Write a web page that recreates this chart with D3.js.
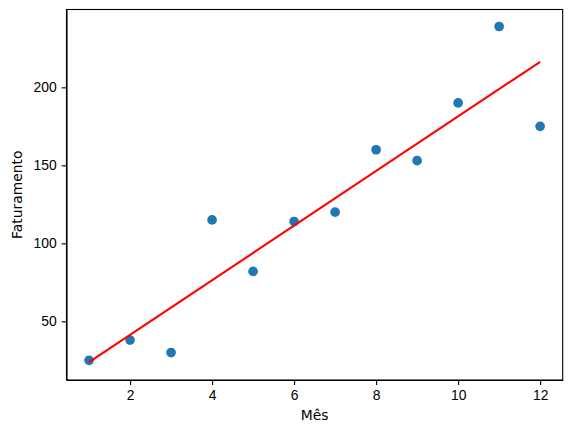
<!DOCTYPE html>
<html>
<head>
<meta charset="utf-8">
<script src="https://cdn.jsdelivr.net/npm/d3@7"></script>
<style>
body { margin: 0; background: #fff; }
svg { font-family: "DejaVu Sans", sans-serif; }
.axis path, .axis line { stroke: #000; stroke-width: 1.1; }
.axis text { font-size: 13.9px; fill: #000; }
</style>
</head>
<body>
<svg></svg>
<script>
// months and revenue
var meses = [1, 2, 3, 4, 5, 6, 7, 8, 9, 10, 11, 12];
var faturamento = [25, 38, 30, 115, 82, 114, 120, 160, 153, 190, 239, 175];
// fitted line endpoints
var linhaX = [1, 12];
var linhaY = [23.8, 216.4];
var xTicks = [2, 4, 6, 8, 10, 12];
var yTicks = [50, 100, 150, 200];

var W = 571, H = 432;
var margin = {top: 9.5, right: 8.3, bottom: 52, left: 66.5};
var width = W - margin.left - margin.right,
    height = H - margin.top - margin.bottom;

var svg = d3.select("svg").attr("width", W).attr("height", H);
var g = svg.append("g").attr("transform", "translate(" + margin.left + "," + margin.top + ")");

var x = d3.scaleLinear().domain([0.45, 12.55]).range([0, width]);
var y = d3.scaleLinear().domain([12.4, 249.9]).range([height, 0]);

// dots
g.selectAll("circle.pt")
  .data(meses)
  .enter().append("circle")
  .attr("class", "pt")
  .attr("cx", function(d) { return x(d); })
  .attr("cy", function(d, i) { return y(faturamento[i]); })
  .attr("r", 4.85)
  .attr("fill", "#1f77b4");

// regression line
var linha = d3.line()
  .x(function(d) { return x(d); })
  .y(function(d, i) { return y(linhaY[i]); });
g.append("path")
  .datum(linhaX)
  .attr("d", linha)
  .attr("fill", "none")
  .attr("stroke", "red")
  .attr("stroke-width", 2.1);

// axes
g.append("g")
  .attr("class", "axis")
  .attr("transform", "translate(0," + height + ")")
  .call(d3.axisBottom(x).tickValues(xTicks).tickSize(4.9).tickPadding(4.9).tickSizeOuter(0));
g.append("g")
  .attr("class", "axis")
  .call(d3.axisLeft(y).tickValues(yTicks).tickSize(4.9).tickPadding(4.9).tickSizeOuter(0));

// frame
g.append("rect")
  .attr("width", width).attr("height", height)
  .attr("fill", "none").attr("stroke", "#000").attr("stroke-width", 1.1);

// labels
svg.append("text")
  .attr("x", margin.left + width / 2)
  .attr("y", 420)
  .attr("text-anchor", "middle")
  .style("font-size", "13.9px")
  .text("Mês");
svg.append("text")
  .attr("transform", "translate(22," + (margin.top + height / 2) + ") rotate(-90)")
  .attr("text-anchor", "middle")
  .style("font-size", "13.9px")
  .text("Faturamento");
</script>
</body>
</html>
